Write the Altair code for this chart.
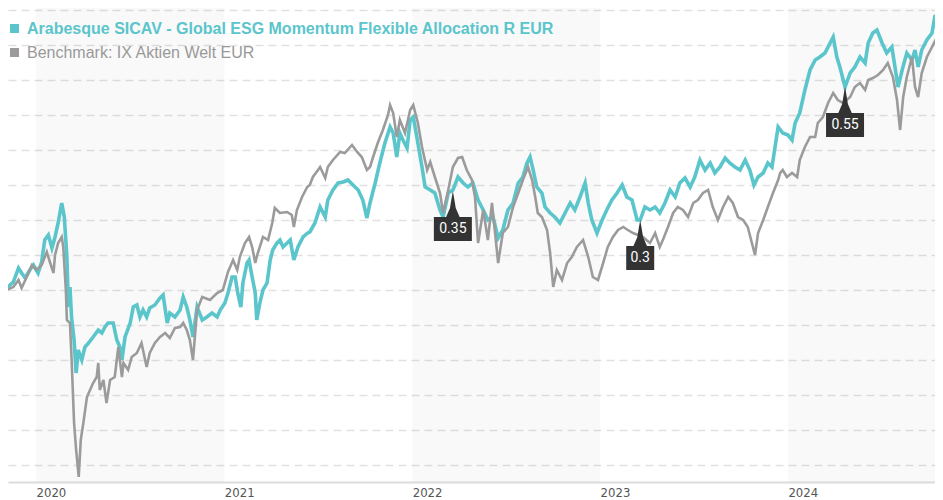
import altair as alt
import pandas as pd

FUND_NAME = "Arabesque SICAV - Global ESG Momentum Flexible Allocation R EUR"
BENCH_NAME = "Benchmark: IX Aktien Welt EUR"
TEAL = "#5bc5cc"
GREY = "#9b9b9b"

# time = days since 2020-01-01, value = index level (arbitrary units, grid every 35)
fund_days = [-57, -44, -34, -28, -21, -12, -5, 4, 11, 17, 24, 31, 37, 43, 50, 55, 60, 63, 66, 69,
             74, 78, 82, 89, 95, 102, 111, 121, 128, 134, 140, 150, 157, 163, 167, 173, 183, 189, 196, 202,
             208, 215, 221, 231, 241, 247, 255, 260, 270, 280, 286, 293, 299, 305, 313, 323, 332, 342, 352, 358,
             367, 373, 381, 387, 392, 398, 402, 410, 414, 420, 426, 429, 435, 441, 449, 455, 460, 468, 474, 480,
             488, 494, 501, 509, 519, 528, 532, 542, 552, 562, 567, 577, 587, 597, 606, 616, 626, 635, 643, 649,
             659, 668, 678, 688, 694, 701, 707, 713, 721, 727, 733, 740, 750, 756, 766, 775, 785, 791, 801, 810,
             820, 830, 839, 849, 859, 869, 878, 888, 898, 907, 917, 927, 937, 946, 954, 960, 966, 973, 983, 989,
             999, 1008, 1018, 1028, 1038, 1047, 1057, 1067, 1073, 1080, 1090, 1100, 1109, 1119, 1129, 1139, 1148, 1158, 1168, 1174,
             1183, 1193, 1203, 1212, 1222, 1232, 1242, 1251, 1261, 1271, 1280, 1290, 1300, 1310, 1319, 1329, 1339, 1348, 1358, 1368,
             1378, 1387, 1395, 1403, 1413, 1422, 1430, 1436, 1442, 1451, 1461, 1469, 1475, 1484, 1494, 1504, 1514, 1523, 1533, 1543,
             1549, 1556, 1562, 1572, 1582, 1591, 1601, 1611, 1617, 1626, 1634, 1644, 1653, 1663, 1669, 1675, 1683, 1692, 1702, 1708,
             1714, 1721, 1731, 1741, 1747, 1753, 1762]
fund_vals = [177, 183, 197, 192, 187, 195, 200, 192, 203, 225, 230, 217, 228, 242, 262, 248, 208, 158, 178, 148,
             125, 92, 115, 105, 118, 122, 128, 135, 132, 138, 142, 142, 125, 118, 105, 128, 142, 158, 160, 148,
             155, 148, 157, 160, 167, 170, 142, 152, 148, 155, 168, 158, 145, 128, 158, 145, 148, 152, 148, 155,
             162, 172, 188, 188, 172, 158, 182, 202, 205, 188, 172, 145, 162, 175, 182, 205, 215, 222, 225, 218,
             222, 225, 205, 218, 228, 232, 233, 242, 258, 248, 265, 275, 282, 283, 285, 280, 275, 265, 247, 262,
             282, 302, 322, 338, 332, 308, 332, 325, 317, 345, 348, 328, 298, 278, 275, 272, 255, 248, 272, 275,
             288, 282, 278, 282, 265, 255, 245, 248, 227, 235, 255, 262, 282, 288, 302, 308, 295, 278, 272, 258,
             252, 248, 242, 252, 262, 255, 268, 282, 262, 245, 232, 245, 255, 265, 272, 280, 268, 265, 245, 245,
             258, 255, 258, 252, 262, 275, 268, 282, 287, 278, 288, 305, 295, 302, 292, 298, 307, 302, 298, 295,
             305, 295, 280, 288, 292, 302, 298, 318, 338, 332, 330, 325, 342, 352, 375, 395, 405, 408, 412, 422,
             428, 408, 398, 378, 392, 398, 408, 402, 422, 432, 435, 422, 412, 418, 398, 378, 395, 412, 405, 415,
             398, 415, 425, 432, 450, 435, 427]

bench_days = [-57, -44, -34, -28, -18, -8, 1, 11, 21, 27, 34, 37, 43, 50, 53, 58, 60, 66, 69, 74,
              78, 83, 87, 92, 99, 105, 111, 118, 121, 124, 131, 137, 144, 153, 160, 167, 170, 179, 186, 196,
              205, 215, 221, 231, 241, 251, 260, 270, 280, 286, 293, 299, 305, 313, 323, 338, 352, 363, 373, 383,
              391, 396, 406, 414, 420, 426, 431, 441, 451, 459, 464, 474, 488, 497, 501, 507, 517, 527, 532, 538,
              548, 552, 562, 567, 577, 591, 600, 614, 624, 633, 643, 649, 655, 664, 674, 684, 688, 694, 701, 707,
              717, 727, 733, 742, 750, 760, 766, 775, 785, 791, 801, 810, 820, 828, 837, 847, 853, 859, 869, 878,
              886, 898, 907, 917, 927, 937, 946, 956, 964, 970, 975, 983, 993, 999, 1005, 1012, 1022, 1032, 1041, 1051,
              1063, 1073, 1082, 1092, 1102, 1111, 1121, 1131, 1141, 1150, 1160, 1179, 1193, 1203, 1212, 1218, 1228, 1238, 1247, 1257,
              1267, 1277, 1286, 1296, 1306, 1315, 1325, 1335, 1345, 1354, 1364, 1374, 1383, 1391, 1397, 1403, 1413, 1422, 1432, 1442,
              1446, 1451, 1459, 1469, 1479, 1484, 1494, 1504, 1514, 1519, 1529, 1539, 1549, 1558, 1568, 1582, 1591, 1601, 1611, 1617,
              1626, 1636, 1646, 1655, 1665, 1673, 1679, 1685, 1692, 1702, 1708, 1714, 1721, 1731, 1741, 1751, 1756, 1762]
bench_vals = [175, 178, 185, 177, 188, 200, 195, 200, 213, 203, 192, 210, 222, 228, 218, 175, 145, 142, 108, 42,
              15, -12, 25, 42, 68, 75, 82, 88, 102, 75, 85, 62, 85, 88, 118, 88, 102, 95, 108, 112,
              122, 98, 112, 122, 128, 132, 127, 137, 138, 142, 135, 125, 105, 155, 168, 165, 172, 175, 193, 205,
              195, 208, 222, 228, 218, 202, 212, 228, 225, 242, 257, 252, 253, 250, 238, 255, 268, 278, 280, 288,
              295, 298, 287, 298, 305, 313, 312, 320, 313, 308, 295, 298, 308, 322, 335, 350, 360, 352, 328, 345,
              332, 355, 360, 342, 318, 295, 303, 288, 272, 252, 275, 298, 307, 308, 295, 285, 268, 222, 255, 225,
              262, 202, 232, 238, 258, 272, 285, 298, 285, 268, 252, 248, 235, 212, 178, 195, 185, 202, 208, 218,
              225, 208, 188, 185, 202, 218, 228, 235, 238, 235, 232, 228, 222, 232, 218, 225, 238, 252, 258, 255,
              248, 262, 265, 272, 275, 258, 245, 258, 268, 262, 248, 245, 238, 222, 210, 232, 245, 258, 272, 285,
              292, 295, 288, 292, 288, 305, 318, 328, 328, 342, 348, 362, 372, 365, 362, 368, 378, 382, 375, 385,
              387, 390, 395, 402, 388, 365, 335, 368, 388, 408, 378, 368, 392, 408, 418, 428, 422, 418]

# distributions (ex-dividend markers on the fund line)
div_days = [810, 1174, 1572]
div_vals = [274, 245, 378]
div_labels = ["0.35", "0.3", "0.55"]

# calendar
year_start_days = [0, 366, 731, 1096, 1461]
band_starts = [0, 731, 1461]
band_ends = [366, 1096, 1827]
grid_values = list(range(0, 456, 35))
X_DOMAIN = [-54.4, 1746.8]
Y_DOMAIN = [-17, 457]

fund_df = pd.DataFrame({"day": fund_days, "val": fund_vals})
bench_df = pd.DataFrame({"day": bench_days, "val": bench_vals})
div_df = pd.DataFrame({"day": div_days, "val": div_vals, "label": div_labels})
band_df = pd.DataFrame({"start": band_starts, "end": band_ends})

xscale = alt.Scale(domain=X_DOMAIN, nice=False, zero=False)
yscale = alt.Scale(domain=Y_DOMAIN, nice=False, zero=False)

xaxis = alt.Axis(values=year_start_days, labelExpr="'' + (2020 + round(datum.value / 365.25))",
                 title=None, grid=False, ticks=False, domainColor="#dcdcdc", domainWidth=2,
                 labelAlign="left", labelFont="Liberation Sans Narrow, DejaVu Sans Condensed, sans-serif",
                 labelFontSize=13, labelColor="#555555", labelPadding=4, labelFlush=False,
                 labelOverlap=False)
yaxis = alt.Axis(values=grid_values, labels=False, ticks=False, domain=False, grid=True,
                 gridDash=[8, 5], gridColor="#e1e1e1", gridWidth=1.5, title=None)

X = alt.X("day:Q", scale=xscale, axis=xaxis)
Y = alt.Y("val:Q", scale=yscale, axis=yaxis)

bands = alt.Chart(band_df).mark_rect(color="#000000", opacity=0.025, clip=True).encode(
    x=alt.X("start:Q", scale=xscale, axis=xaxis), x2="end:Q",
    y=alt.value(0), y2=alt.value(474))

fund_line = alt.Chart(fund_df).mark_line(color=TEAL, strokeWidth=3.6, clip=True).encode(x=X, y=Y)
bench_line = alt.Chart(bench_df).mark_line(color=GREY, strokeWidth=2.6, clip=True).encode(x=X, y=Y)

SPIRE = "M0,-1 L0.12,-0.3 L0.22,0.3 L0.52,1 L-0.52,1 L-0.22,0.3 L-0.12,-0.3 Z"
spire = alt.Chart(div_df).mark_point(shape=SPIRE, filled=True, color="#333333", opacity=1,
                                      size=676, yOffset=13, strokeWidth=0).encode(x=X, y=Y)
box_wide = alt.Chart(div_df).transform_filter("length(datum.label) > 3").mark_rect(
    color="#333333", xOffset=-19, x2Offset=19, yOffset=26, y2Offset=50).encode(
    x=X, x2="day:Q", y=Y, y2="val:Q")
box_narrow = alt.Chart(div_df).transform_filter("length(datum.label) <= 3").mark_rect(
    color="#333333", xOffset=-14, x2Offset=14, yOffset=26, y2Offset=50).encode(
    x=X, x2="day:Q", y=Y, y2="val:Q")
div_text = alt.Chart(div_df).mark_text(color="white", fontSize=14, yOffset=38, align="center",
                                        baseline="middle", font="Roboto").encode(
    x=X, y=Y, text="label:N")

leg1_df = pd.DataFrame({"label": [FUND_NAME]})
leg2_df = pd.DataFrame({"label": [BENCH_NAME]})
leg1_sq = alt.Chart(leg1_df).mark_square(color=TEAL, size=81, opacity=1).encode(
    x=alt.value(6.5), y=alt.value(20.5))
leg1_tx = alt.Chart(leg1_df).mark_text(color=TEAL, fontSize=16, fontWeight="bold", align="left",
                                        baseline="middle", font="Liberation Sans").encode(
    x=alt.value(19), y=alt.value(21), text="label:N")
leg2_sq = alt.Chart(leg2_df).mark_square(color=GREY, size=81, opacity=1).encode(
    x=alt.value(6.5), y=alt.value(44.5))
leg2_tx = alt.Chart(leg2_df).mark_text(color="#999999", fontSize=16, align="left",
                                        baseline="middle", font="Liberation Sans").encode(
    x=alt.value(19), y=alt.value(45), text="label:N")

chart = alt.layer(bands, fund_line, bench_line, spire, box_wide, box_narrow, div_text,
                  leg1_sq, leg1_tx, leg2_sq, leg2_tx).properties(
    width=927, height=474, autosize=alt.AutoSizeParams(type="none"),
    padding={"left": 0, "top": 0, "right": 0, "bottom": 18}
).configure_view(stroke=None)

chart.save("out.html", embed_options={"renderer": "svg", "actions": False})
